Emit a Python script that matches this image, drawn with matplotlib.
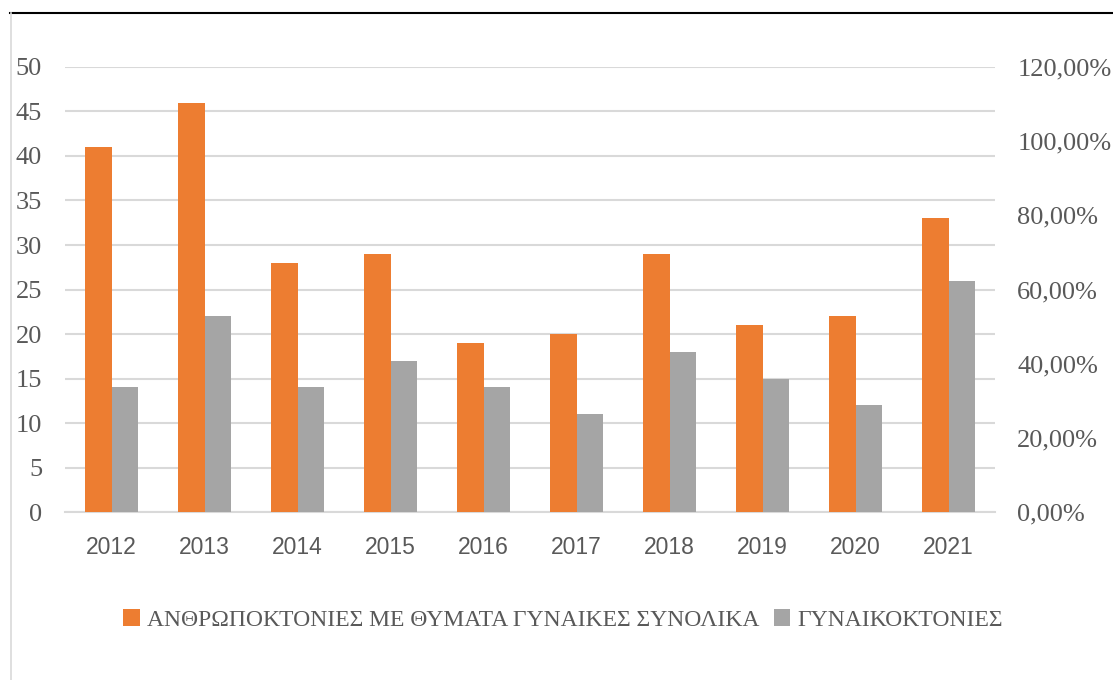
import numpy as np
import matplotlib
matplotlib.use("Agg")
import matplotlib.pyplot as plt
from matplotlib.lines import Line2D
from matplotlib.ticker import FuncFormatter

years = ["2012", "2013", "2014", "2015", "2016", "2017", "2018", "2019", "2020", "2021"]
total_homicides = [41, 46, 28, 29, 19, 20, 29, 21, 22, 33]
femicides = [14, 22, 14, 17, 14, 11, 18, 15, 12, 26]
label_total = "ΑΝΘΡΩΠΟΚΤΟΝΙΕΣ ΜΕ ΘΥΜΑΤΑ ΓΥΝΑΙΚΕΣ ΣΥΝΟΛΙΚΑ"
label_fem = "ΓΥΝΑΙΚΟΚΤΟΝΙΕΣ"

orange = "#ed7d31"
grey = "#a5a5a5"
text_c = "#595959"
grid_c = "#d9d9d9"

fig = plt.figure(figsize=(11.13, 6.8), dpi=100)
ax = fig.add_axes([0.0584, 0.247, 0.8356, 0.6545])

x = np.arange(len(years))
w = 0.28
ax.bar(x - w / 2, total_homicides, w, color=orange, label=label_total, zorder=3)
ax.bar(x + w / 2, femicides, w, color=grey, label=label_fem, zorder=3)

ax.set_xlim(-0.5, len(years) - 0.5)
ax.set_ylim(0, 50)
ax.set_yticks(range(0, 51, 5))
ax.yaxis.grid(True, color=grid_c, linewidth=1.5, zorder=0)
ax.set_axisbelow(True)
for s in ["top", "right", "left"]:
    ax.spines[s].set_visible(False)
ax.spines["bottom"].set_color(grid_c)
ax.spines["bottom"].set_linewidth(1.5)
ax.tick_params(axis="y", length=0, pad=16.5, labelsize=19, labelcolor=text_c)
ax.tick_params(axis="x", length=0, pad=17, labelsize=16.5, labelcolor=text_c)
ax.set_xticks(x)
ax.set_xticklabels(years, family="Liberation Sans")
for t in ax.get_yticklabels():
    t.set_family("Liberation Serif")

ax2 = ax.twinx()
ax2.set_ylim(0, 1.2)
ax2.set_yticks(np.arange(0, 1.21, 0.2))
ax2.yaxis.set_major_formatter(FuncFormatter(lambda v, p: f"{v * 100:.2f}%".replace(".", ",")))
for s in ["top", "right", "left", "bottom"]:
    ax2.spines[s].set_visible(False)
ax2.tick_params(axis="y", length=0, pad=16, labelsize=19, labelcolor=text_c)
for t in ax2.get_yticklabels():
    t.set_family("Liberation Serif")

leg = ax.legend(loc="center", bbox_to_anchor=(563 / 1113, 1 - 620 / 680),
                bbox_transform=fig.transFigure, ncol=2, frameon=False,
                prop={"family": "Liberation Serif", "size": 17},
                handlelength=0.7, handleheight=0.7, handletextpad=0.3, columnspacing=0.6)
for t in leg.get_texts():
    t.set_color(text_c)

# frame lines of the figure box
fig.add_artist(Line2D([10 / 1113, 1], [1 - 13 / 680, 1 - 13 / 680], color="black", linewidth=1.5))
fig.add_artist(Line2D([11 / 1113, 11 / 1113], [0, 1 - 13 / 680], color=grid_c, linewidth=1.2))

fig.savefig("out.png", dpi=100)
